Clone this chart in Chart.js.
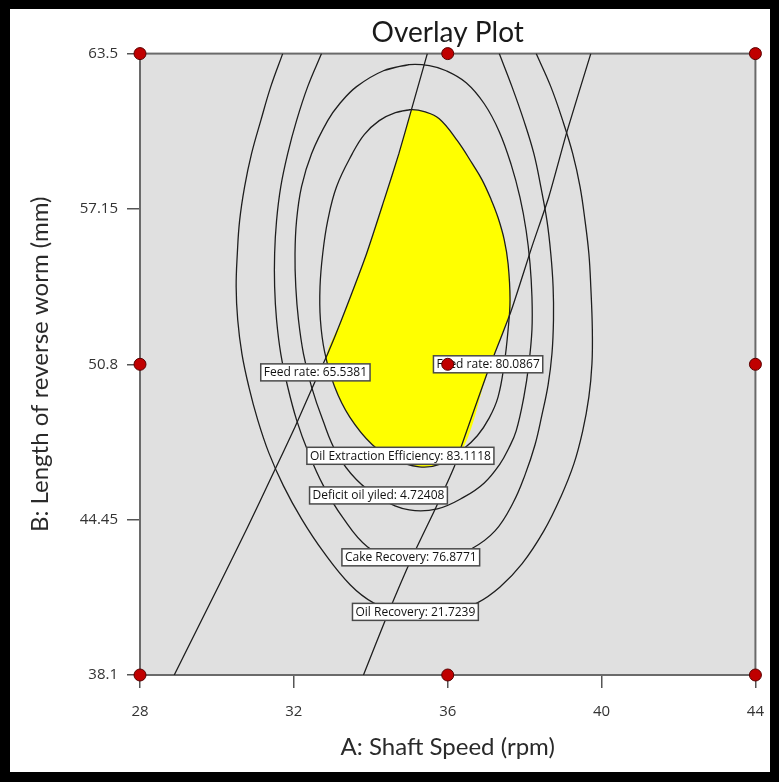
<!DOCTYPE html>
<html>
<head>
<meta charset="utf-8">
<title>Overlay Plot</title>
<script src="https://cdn.jsdelivr.net/npm/chart.js@4.4.1/dist/chart.umd.min.js"></script>
<style>
  html, body { margin: 0; padding: 0; background: #fff; }
  canvas { display: block; }
</style>
</head>
<body>
<canvas id="overlay" width="779" height="782"></canvas>
<script>
// ---- axes ----
const xTicks = [28, 32, 36, 40, 44];
const yTicks = [38.1, 44.45, 50.8, 57.15, 63.5];
const yTickLabels = ["38.1", "44.45", "50.8", "57.15", "63.5"];

// ---- design points (red dots) ----
const designX = [28, 28, 28, 36, 36, 36, 44, 44, 44];
const designY = [38.1, 50.8, 63.5, 38.1, 50.8, 63.5, 38.1, 50.8, 63.5];

// ---- contour: Oil Recovery 21.7239 ----
const oilRecX = [31.71, 31.40, 31.14, 30.90, 30.72, 30.59, 30.53, 30.50, 30.54, 30.65, 30.83, 31.06, 31.35, 31.73, 32.20, 32.77, 33.47, 34.07, 34.72, 35.39, 36.09, 36.77, 37.36, 37.93, 38.50, 38.94, 39.28, 39.51, 39.67, 39.75, 39.76, 39.72, 39.67, 39.57, 39.44, 39.25, 38.99, 38.68, 38.30];
const oilRecY = [63.5, 62.15, 60.76, 59.41, 58.06, 56.67, 55.32, 53.97, 52.62, 51.23, 49.88, 48.53, 47.18, 45.83, 44.48, 43.13, 41.78, 41.05, 40.68, 40.55, 40.68, 41.05, 41.70, 42.64, 43.99, 45.38, 46.73, 48.08, 49.47, 50.82, 52.21, 53.97, 55.32, 56.67, 58.06, 59.41, 60.76, 62.15, 63.5];

// ---- contour: Cake Recovery 76.8771 ----
const cakeRecX = [32.72, 32.36, 32.07, 31.84, 31.66, 31.55, 31.50, 31.50, 31.55, 31.66, 31.84, 32.07, 32.38, 32.77, 33.26, 33.91, 34.59, 35.26, 35.94, 36.61, 37.23, 37.70, 38.01, 38.27, 38.45, 38.61, 38.71, 38.75, 38.74, 38.68, 38.58, 38.42, 38.24, 37.98, 37.67, 37.34];
const cakeRecY = [63.5, 62.15, 60.76, 59.41, 58.06, 56.67, 55.32, 53.97, 52.62, 51.23, 49.88, 48.53, 47.18, 45.83, 44.56, 43.34, 42.89, 42.76, 42.89, 43.25, 43.99, 45.14, 46.28, 47.51, 48.73, 49.96, 51.23, 52.62, 53.97, 55.32, 56.67, 58.06, 59.41, 60.76, 62.15, 63.5];

// ---- contour: Deficit oil yiled 4.72408 ----
const deficitX = [35.00, 34.33, 33.63, 33.19, 32.88, 32.46, 32.20, 32.07, 32.03, 32.05, 32.12, 32.25, 32.46, 32.75, 33.11, 33.63, 34.28, 35.00, 35.73, 36.43, 36.95, 37.36, 37.59, 37.78, 37.98, 38.11, 38.19, 38.19, 38.14, 38.04, 37.88, 37.65, 37.34, 36.95, 36.48, 35.96, 35.52, 35.00, 34.33];
const deficitY = [63.05, 62.80, 62.15, 61.45, 60.76, 59.41, 58.06, 56.67, 55.32, 53.97, 52.62, 51.23, 49.88, 48.53, 47.18, 46.08, 45.30, 44.85, 44.89, 45.38, 45.95, 46.73, 47.38, 48.08, 49.47, 50.82, 52.21, 53.56, 54.91, 56.26, 57.61, 58.96, 60.31, 61.45, 62.31, 62.80, 63.01, 63.05, 62.80];

// ---- contour: Oil Extraction Efficiency 83.1118 ----
const oeeX = [35.05, 34.64, 34.22, 33.83, 33.52, 33.11, 32.88, 32.75, 32.68, 32.69, 32.80, 33.06, 33.45, 34.04, 34.61, 35.26, 35.83, 36.38, 36.77, 37.08, 37.31, 37.47, 37.57, 37.62, 37.57, 37.47, 37.31, 37.13, 36.89, 36.64, 36.25, 35.78, 35.39, 35.05, 34.64];
const oeeY = [61.21, 61.09, 60.76, 60.19, 59.41, 58.06, 56.67, 55.32, 53.97, 52.62, 51.31, 49.88, 48.65, 47.51, 46.93, 46.61, 46.73, 47.30, 47.88, 48.61, 49.47, 50.82, 52.21, 53.44, 54.91, 55.89, 56.79, 57.53, 58.35, 59.00, 59.94, 60.84, 61.13, 61.21, 61.09];

// ---- Feed rate 65.5381 ----
const feedLowX = [28.89, 30.07, 30.80, 31.42, 32.03, 32.56, 32.88, 33.24, 33.89, 34.35, 34.73, 35.05, 35.47];
const feedLowY = [38.1, 41.82, 44.15, 46.20, 48.24, 50.13, 51.23, 52.62, 55.32, 57.53, 59.41, 61.17, 63.5];

// ---- Feed rate 80.0867 ----
const feedHighX = [33.81, 34.41, 35.08, 35.70, 36.17, 36.35, 37.02, 37.65, 38.19, 38.63, 39.10, 39.72];
const feedHighY = [38.1, 40.47, 42.93, 44.97, 46.61, 47.43, 50.41, 52.99, 55.61, 57.65, 60.31, 63.5];

// ---- yellow feasible region ----
const sweetX = [35.05, 35.39, 35.78, 36.25, 36.64, 36.89, 37.13, 37.31, 37.47, 37.57, 37.62, 37.62, 37.02, 36.43, 35.83, 35.26, 34.61, 34.04, 33.45, 33.06, 32.84, 33.24, 33.89, 34.35, 34.73, 35.05];
const sweetY = [61.21, 61.13, 60.84, 59.94, 59.00, 58.35, 57.53, 56.79, 55.89, 54.91, 53.97, 52.99, 50.41, 47.47, 46.73, 46.61, 46.93, 47.51, 48.65, 49.88, 51.07, 52.62, 55.32, 57.53, 59.41, 61.21];

// ---- contour flags ----
const labelText = ["Feed rate: 65.5381", "Feed rate: 80.0867", "Oil Extraction Efficiency: 83.1118", "Deficit oil yiled: 4.72408", "Cake Recovery: 76.8771", "Oil Recovery: 21.7239"];
const labelX = [32.56, 37.05, 34.77, 34.20, 35.04, 35.16];
const labelY = [50.47, 50.80, 47.06, 45.44, 42.91, 40.68];

function pts(xs, ys) {
  return xs.map((x, i) => ({ x: x, y: ys[i] }));
}

function contour(xs, ys, tension) {
  return {
    data: pts(xs, ys),
    showLine: true,
    borderColor: "#1e1e1e",
    borderWidth: 1.3,
    pointRadius: 0,
    tension: tension,
    fill: false,
    order: 2
  };
}

const DOT_INDEX = 7;

const overlayPlugin = {
  id: "overlayPlugin",
  beforeDraw(chart) {
    const { ctx, chartArea: a } = chart;
    ctx.save();
    ctx.fillStyle = "#ffffff";
    ctx.fillRect(0, 0, chart.width, chart.height);
    ctx.fillStyle = "#e0e0e0";
    ctx.fillRect(a.left, a.top, a.right - a.left, a.bottom - a.top);
    ctx.restore();
  },
  beforeDatasetsDraw(chart) {
    const { ctx, chartArea: a } = chart;
    ctx.save();
    ctx.strokeStyle = "#6a6a6a";
    ctx.lineWidth = 2;
    ctx.strokeRect(a.left, a.top, a.right - a.left, a.bottom - a.top);
    ctx.restore();
  },
  beforeDatasetDraw(chart, args) {
    if (args.index !== DOT_INDEX) return;
    const { ctx, scales } = chart;
    ctx.save();
    ctx.font = "12px 'Open Sans'";
    ctx.textAlign = "center";
    ctx.textBaseline = "middle";
    labelText.forEach((t, i) => {
      const cx = scales.x.getPixelForValue(labelX[i]);
      const cy = scales.y.getPixelForValue(labelY[i]);
      const w = ctx.measureText(t).width + 6;
      const h = 17;
      ctx.fillStyle = "#ffffff";
      ctx.fillRect(cx - w / 2, cy - h / 2, w, h);
      ctx.strokeStyle = "#4a4a4a";
      ctx.lineWidth = 1.5;
      ctx.strokeRect(cx - w / 2, cy - h / 2, w, h);
      ctx.fillStyle = "#111";
      ctx.fillText(t, cx, cy + 0.5);
    });
    ctx.restore();
  },
  afterDraw(chart) {
    const { ctx, width, height } = chart;
    ctx.save();
    ctx.fillStyle = "#000";
    ctx.fillRect(0, 0, width, 9);
    ctx.fillRect(0, 0, 10, height);
    ctx.fillRect(width - 9, 0, 9, height);
    ctx.fillRect(0, height - 10, width, 10);
    ctx.restore();
  }
};

new Chart(document.getElementById("overlay"), {
  type: "scatter",
  data: {
    datasets: [
      {
        data: pts(sweetX, sweetY),
        showLine: true,
        fill: "shape",
        backgroundColor: "#ffff00",
        borderColor: "rgba(0,0,0,0)",
        borderWidth: 0,
        pointRadius: 0,
        tension: 0.3,
        order: 3
      },
      contour(oilRecX, oilRecY, 0.4),
      contour(cakeRecX, cakeRecY, 0.4),
      contour(deficitX, deficitY, 0.4),
      contour(oeeX, oeeY, 0.4),
      contour(feedLowX, feedLowY, 0.2),
      contour(feedHighX, feedHighY, 0.2),
      {
        data: pts(designX, designY),
        pointRadius: 6,
        pointHoverRadius: 6,
        backgroundColor: "#c00000",
        borderColor: "#5a0000",
        borderWidth: 1,
        clip: false,
        order: 0
      }
    ]
  },
  options: {
    responsive: false,
    animation: false,
    events: [],
    layout: { padding: { left: 0, right: 22, top: 0, bottom: 0 } },
    plugins: {
      legend: { display: false },
      tooltip: { enabled: false },
      title: {
        display: true,
        text: "Overlay Plot",
        fullSize: false,
        color: "#1a1a1a",
        font: { family: "Lato", size: 28, weight: "normal" },
        padding: { top: 16, bottom: 4 }
      }
    },
    scales: {
      x: {
        type: "linear",
        min: 28,
        max: 44,
        afterBuildTicks: (scale) => { scale.ticks = xTicks.map(v => ({ value: v })); },
        afterFit: (scale) => { scale.height = 107; },
        grid: { drawOnChartArea: false, drawTicks: true, tickLength: 13, color: "#555", lineWidth: 1.5 },
        border: { display: false },
        ticks: {
          padding: 15,
          color: "#333",
          font: { family: "Open Sans", size: 15 },
          callback: (v) => String(v)
        },
        title: {
          display: true,
          text: "A: Shaft Speed (rpm)",
          color: "#2a2a2a",
          font: { family: "Lato", size: 24 },
          padding: { top: 0, bottom: 20 }
        }
      },
      y: {
        type: "linear",
        min: 38.1,
        max: 63.5,
        afterBuildTicks: (scale) => { scale.ticks = yTicks.map(v => ({ value: v })); },
        afterFit: (scale) => { scale.width = 140; },
        grid: { drawOnChartArea: false, drawTicks: true, tickLength: 13, color: "#555", lineWidth: 1.5 },
        border: { display: false },
        ticks: {
          padding: 9,
          color: "#333",
          font: { family: "Open Sans", size: 15 },
          callback: (v, i) => yTickLabels[i]
        },
        title: {
          display: true,
          text: "B: Length of reverse worm (mm)",
          color: "#2a2a2a",
          font: { family: "Lato", size: 24 },
          padding: { top: 26, bottom: 0 }
        }
      }
    }
  },
  plugins: [overlayPlugin]
});
</script>
</body>
</html>
